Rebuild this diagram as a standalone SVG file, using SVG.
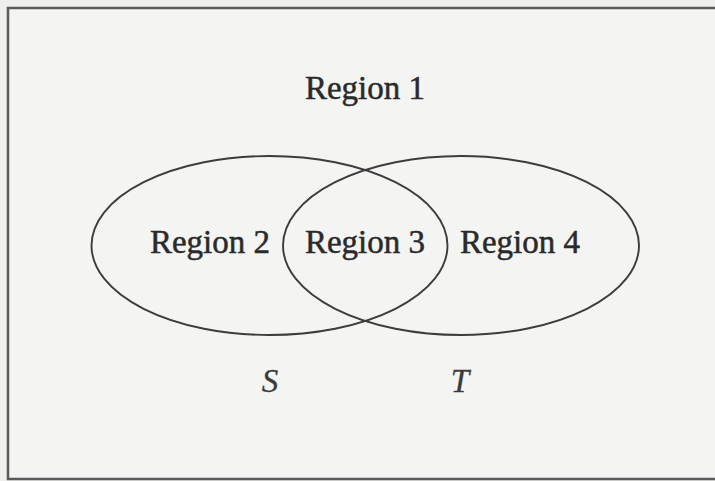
<svg xmlns="http://www.w3.org/2000/svg" width="715" height="481" viewBox="0 0 715 481">
  <style>
    .frame { fill: #f4f4f3; stroke: #5a5a5a; stroke-width: 2.5; }
    .set { fill: none; stroke: #3c3c3c; stroke-width: 1.9; }
    .lbl { font-family: "Liberation Serif", "DejaVu Serif", serif; font-size: 33px; fill: #2a2a2a; stroke: #2a2a2a; stroke-width: 0.5; text-anchor: middle; }
    .var { font-family: "Liberation Serif", "DejaVu Serif", serif; font-size: 33px; font-style: italic; fill: #3a3a3a; stroke: #3a3a3a; stroke-width: 0.3; text-anchor: middle; }
  </style>
  <rect x="0" y="0" width="715" height="481" fill="#efefee"/>
  <rect class="frame" x="8" y="8" width="730" height="471"/>
  <g id="region1">
    <text class="lbl" x="365" y="99">Region 1</text>
  </g>
  <g id="setS">
    <ellipse class="set" cx="269.5" cy="245.5" rx="178" ry="89.5"/>
    <text class="var" x="270" y="392">S</text>
  </g>
  <g id="setT">
    <ellipse class="set" cx="461" cy="245.5" rx="178" ry="89.5"/>
    <text class="var" x="460" y="392">T</text>
  </g>
  <g id="region2">
    <text class="lbl" x="210" y="253">Region 2</text>
  </g>
  <g id="region3">
    <text class="lbl" x="365" y="253">Region 3</text>
  </g>
  <g id="region4">
    <text class="lbl" x="520" y="253">Region 4</text>
  </g>
  <g id="connectors"></g>
</svg>
